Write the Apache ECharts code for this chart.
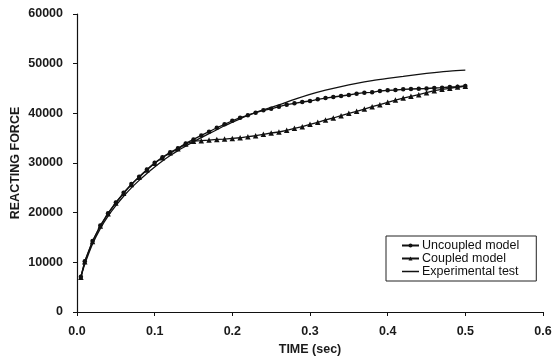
<!DOCTYPE html>
<html>
<head>
<meta charset="utf-8">
<script src="https://cdn.jsdelivr.net/npm/echarts@6/dist/echarts.min.js"></script>
<style>html,body{margin:0;padding:0;background:#fff}#c{width:553px;height:360px}</style>
</head>
<body>
<div id="c"></div>
<script>
var modelTime = [0.005,0.01,0.02,0.03,0.04,0.05,0.06,0.07,0.08,0.09,0.10,0.11,0.12,0.13,0.14,0.15,0.16,0.17,0.18,0.19,0.20,0.21,0.22,0.23,0.24,0.25,0.26,0.27,0.28,0.29,0.30,0.31,0.32,0.33,0.34,0.35,0.36,0.37,0.38,0.39,0.40,0.41,0.42,0.43,0.44,0.45,0.46,0.47,0.48,0.49,0.50];
var uncoupled = [7100,10200,14300,17400,19900,22050,24000,25750,27250,28700,30050,31150,32150,32950,33950,34750,35550,36300,37100,37790,38510,39120,39600,40130,40600,40900,41330,41740,42010,42280,42480,42820,43080,43290,43490,43690,43960,44160,44230,44500,44630,44700,44830,44900,44950,45000,45100,45170,45300,45350,45500];
var coupled = [7000,10100,14200,17300,19800,21950,23900,25650,27150,28600,29950,31050,32050,32850,33850,34400,34500,34620,34750,34820,34950,35080,35290,35490,35770,36040,36240,36580,36990,37310,37790,38190,38660,39060,39530,40000,40400,40870,41330,41740,42220,42680,43080,43420,43760,44160,44560,44830,45040,45300,45450];
var expTime = [0.005,0.01,0.02,0.03,0.04,0.05,0.06,0.07,0.08,0.09,0.10,0.11,0.12,0.13,0.14,0.15,0.16,0.17,0.18,0.19,0.20,0.22,0.24,0.26,0.28,0.30,0.32,0.34,0.36,0.38,0.40,0.42,0.44,0.46,0.48,0.50];
var experimental = [7000,9600,13700,16800,19300,21400,23300,25000,26500,27900,29200,30400,31500,32500,33400,34300,35100,35900,36700,37500,38200,39600,40700,41700,42800,43800,44650,45400,46050,46600,47050,47450,47850,48200,48500,48700];
var xTicks = ['0.0','0.1','0.2','0.3','0.4','0.5','0.6'];
var yTicks = ['0','10000','20000','30000','40000','50000','60000'];

function pairs(t, v){ return t.map(function(x,i){ return [x, v[i]]; }); }

var chart = echarts.init(document.getElementById('c'));
var axisFont = {fontFamily:'Liberation Sans, Arial, sans-serif', fontWeight:'bold', fontSize:12.5, color:'#1a1a1a'};
chart.setOption({
  animation:false,
  backgroundColor:'#fff',
  grid:{left:77,right:10,top:14,bottom:48,containLabel:false,outerBoundsMode:'none'},
  legend:{
    orient:'vertical', left:386, top:236,
    padding:[3,17,3,15], itemGap:0, itemWidth:17, itemHeight:5,
    borderColor:'#222', borderWidth:1,
    textStyle:{fontFamily:'Liberation Sans, Arial, sans-serif', fontSize:12.5, lineHeight:12.5, color:'#111', padding:[0,0,0,-2]},
    data:[
      {name:'Uncoupled model'},
      {name:'Coupled model'},
      {name:'Experimental test', icon:'path://M0,0 L0.01,0 L0.01,0.01 Z M0,1.85 L17,1.85 L17,3.15 L0,3.15 Z M16.99,5 L17,5 L17,4.99 Z'}
    ]
  },
  xAxis:{
    type:'value', min:0, max:0.6, interval:0.1,
    name:'TIME (sec)', nameLocation:'middle', nameGap:31, nameMoveOverlap:false,
    nameTextStyle:axisFont,
    axisLine:{show:true,lineStyle:{color:'#111',width:1.2}},
    axisTick:{show:true,length:4,inside:false,lineStyle:{color:'#111'}},
    axisLabel:Object.assign({margin:13, formatter:function(v){ return xTicks[Math.round(v*10)]; }}, axisFont),
    splitLine:{show:false}
  },
  yAxis:{
    type:'value', min:0, max:60000, interval:10000,
    name:'REACTING FORCE', nameLocation:'middle', nameGap:55, nameRotate:90, nameMoveOverlap:false,
    nameTextStyle:axisFont,
    axisLine:{show:true,lineStyle:{color:'#111',width:1.2}},
    axisTick:{show:true,length:4,inside:false,lineStyle:{color:'#111'}},
    axisLabel:Object.assign({margin:14, formatter:function(v){ return yTicks[Math.round(v/10000)]; }}, axisFont),
    splitLine:{show:false}
  },
  series:[
    {name:'Uncoupled model', type:'line', data:pairs(modelTime, uncoupled), symbol:'circle', symbolSize:4.5,
     lineStyle:{color:'#111',width:1.3}, itemStyle:{color:'#111'}, z:3},
    {name:'Coupled model', type:'line', data:pairs(modelTime, coupled), symbol:'triangle', symbolSize:5.5,
     lineStyle:{color:'#111',width:1.3}, itemStyle:{color:'#111'}, z:3},
    {name:'Experimental test', type:'line', data:pairs(expTime, experimental), symbol:'none', smooth:0.3,
     lineStyle:{color:'#111',width:1.3}, itemStyle:{color:'#111'}, z:2}
  ]
});
</script>
</body>
</html>
